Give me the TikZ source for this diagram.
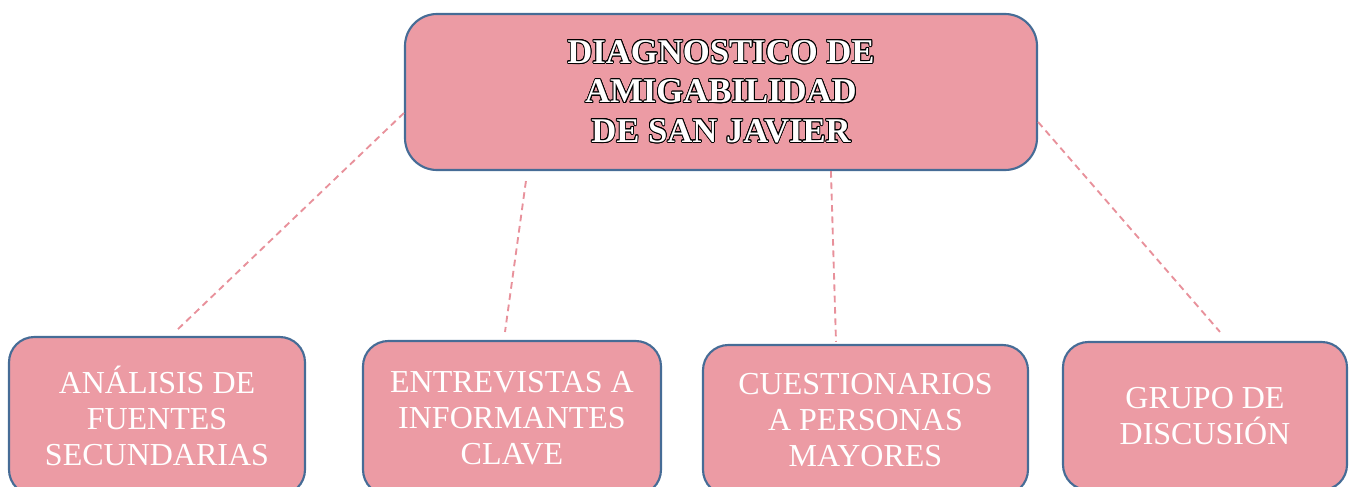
\documentclass[tikz,border=0pt]{standalone}
\usepackage{fontspec}
\setmainfont{Liberation Serif}
\usepackage[copies]{contour}
\contourlength{0.65pt}
\usetikzlibrary{calc}
\definecolor{boxfill}{RGB}{236,155,164}
\definecolor{boxline}{RGB}{70,108,150}
\definecolor{dashpink}{RGB}{232,145,155}
\begin{document}
\begin{tikzpicture}[x=0.75pt,y=-0.75pt,
  card/.style={draw=boxline,line width=1.6pt,fill=boxfill,align=center,inner sep=0pt},
  titlebox/.style={card,rounded corners=24pt,minimum width=474pt,minimum height=117pt,
     font=\fontsize{26}{29.6}\selectfont\bfseries,text=white},
  leafbox/.style={card,rounded corners=19pt,font=\fontsize{24}{27}\selectfont,text=white},
  link/.style={draw=dashpink,line width=1.4pt,dash pattern=on 5pt off 3.5pt}]
\useasboundingbox (0,0) rectangle (1354,486);
\clip (0,0) rectangle (1354,486);
\node[titlebox] (title) at (721,92) {\contour{black}{DIAGNOSTICO DE}\\\contour{black}{AMIGABILIDAD}\\\contour{black}{DE SAN JAVIER}};
\node[leafbox,minimum width=222pt,minimum height=118.5pt] (b1) at (157,416) {ANÁLISIS DE\\FUENTES\\SECUNDARIAS};
\node[leafbox,minimum width=223.5pt,minimum height=115.5pt] (b2) at (512,418) {ENTREVISTAS A\\INFORMANTES\\CLAVE};
\node[leafbox,minimum width=243.75pt,minimum height=112.5pt] (b3) at (865.5,420) {CUESTIONARIOS\\A PERSONAS\\MAYORES};
\node[leafbox,minimum width=213pt,minimum height=111pt] (b4) at (1205,416) {GRUPO DE\\DISCUSIÓN};
\draw[link] ($(title.west)+(0,21)$) -- ($(b1.north)+(18,-4)$);
\draw[link] ($(title.south west)+(122,10)$) -- ($(b2.north)+(-7,-8)$);
\draw[link] ($(title.south west)+(427,0)$) -- ($(b3.north)+(-29.5,-2)$);
\draw[link] ($(title.east)+(0,30)$) -- ($(b4.north)+(15,-9)$);
\end{tikzpicture}
\end{document}
